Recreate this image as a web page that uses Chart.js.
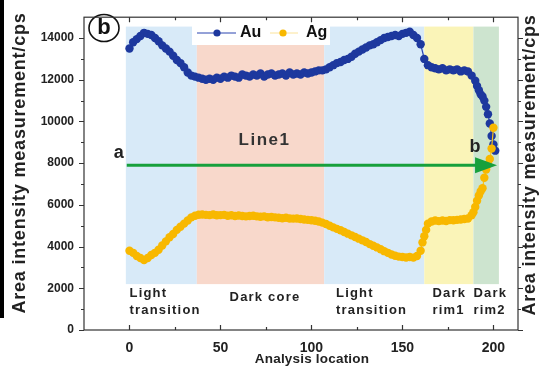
<!DOCTYPE html>
<html><head><meta charset="utf-8">
<script src="https://cdn.jsdelivr.net/npm/chart.js@4/dist/chart.umd.min.js"></script>
<style>html,body{margin:0;padding:0;background:#fff;}canvas{display:block;}</style>
</head><body>
<canvas id="c" width="541" height="370"></canvas>
<script>
// ---- data ----
const auLocation = [0,2,4,6,8,10,12,14,16,18,20,22,24,26,28,30,32,34,36,38,40,42,44,46,48,50,52,54,56,58,60,62,64,66,68,70,72,74,76,78,80,82,84,86,88,90,92,94,96,98,100,102,104,106,108,110,112,114,116,118,120,122,124,126,128,130,132,134,136,138,140,142,144,146,148,150,152,154,156,158,160,162,164,166,168,170,172,174,176,178,180,182,184,186,188,190,191,192,193,194,195,196,197,198,199,200,201];
const auIntensity = [13500,13800,13950,14100,14250,14200,14150,14000,13850,13650,13500,13350,13150,12950,12800,12600,12350,12200,12150,12100,12050,12000,12050,12000,12100,12050,12150,12100,12200,12150,12100,12250,12200,12150,12250,12200,12300,12150,12250,12300,12200,12250,12300,12200,12350,12250,12300,12250,12350,12300,12350,12400,12450,12450,12500,12600,12700,12800,12850,12950,13000,13100,13250,13350,13450,13550,13650,13700,13800,13900,14000,14050,14100,14150,14100,14200,14250,14300,14150,14000,13700,13000,12700,12600,12550,12500,12550,12450,12500,12450,12500,12400,12450,12400,12200,11950,11700,11500,11300,11200,11000,10700,10350,9900,9300,8900,8600];
const agLocation = [0,2,4,6,8,10,12,14,16,18,20,22,24,26,28,30,32,34,36,38,40,42,44,46,48,50,52,54,56,58,60,62,64,66,68,70,72,74,76,78,80,82,84,86,88,90,92,94,96,98,100,102,104,106,108,110,112,114,116,118,120,122,124,126,128,130,132,134,136,138,140,142,144,146,148,150,152,154,156,158,160,161,162,163,164,166,168,170,172,174,176,178,180,182,184,186,188,189,190,191,192,193,194,195,196,197,198,199,200];
const agIntensity = [3800,3700,3550,3450,3350,3450,3600,3700,3850,4050,4250,4450,4600,4800,4950,5100,5250,5400,5480,5530,5540,5520,5510,5540,5500,5510,5520,5480,5500,5470,5490,5470,5450,5470,5480,5450,5430,5450,5410,5420,5400,5380,5360,5380,5350,5340,5350,5320,5300,5280,5260,5240,5200,5150,5080,5000,4920,4850,4780,4700,4620,4540,4460,4380,4300,4220,4120,4040,3960,3870,3780,3700,3620,3560,3520,3500,3480,3500,3470,3550,3800,4200,4500,4800,5100,5200,5250,5220,5250,5230,5270,5260,5280,5300,5320,5350,5500,5650,5900,6200,6450,6650,6800,7300,7700,7950,8200,8700,9700];
const xTickValues = [0,50,100,150,200];
const yTickValues = [0,2000,4000,6000,8000,10000,12000,14000];
const zoneStart = [-2,37,107,162,189];
const zoneEnd = [37,107,162,189,203];
const zoneBounds = [2200,14550];
const zoneLabels = [["Light","transition"],["Dark core"],["Light","transition"],["Dark","rim1"],["Dark","rim2"]];
const zoneLabelAt = [0,55,113.5,166.5,189];
const lineSpan = [-1.5,202];
const lineLevel = [7900];

const F = '"Liberation Sans", Arial, sans-serif';
const zoneColors = ['#d8eaf8','#f8d8cb','#d8eaf8','#faf4b8','#cde4cf'];

function txt(ctx, s, x, y, font, color, align, spacing){
  ctx.font = font; ctx.fillStyle = color; ctx.textAlign = align || 'center';
  ctx.textBaseline = 'middle'; ctx.letterSpacing = spacing || '0px';
  ctx.fillText(s, x, y);
  ctx.letterSpacing = '0px';
}

const decor = {
  id:'decor',
  beforeDraw(chart){
    const ctx = chart.ctx;
    ctx.save();
    ctx.fillStyle = '#000';
    ctx.fillRect(0,0,4,318);
    ctx.restore();
  },
  beforeDatasetsDraw(chart){
    const {ctx, scales:{x,y}} = chart;
    ctx.save();
    const yt = y.getPixelForValue(zoneBounds[1]), yb = y.getPixelForValue(zoneBounds[0]);
    zoneStart.forEach((s,i)=>{
      const x0 = x.getPixelForValue(s), x1 = x.getPixelForValue(zoneEnd[i]);
      ctx.fillStyle = zoneColors[i];
      ctx.fillRect(x0, yt, x1-x0, yb-yt);
    });
    ctx.restore();
  },
  afterDatasetsDraw(chart){
    const {ctx, chartArea:a, scales:{x,y}} = chart;
    ctx.save();
    // arrow Line1
    const ly = y.getPixelForValue(lineLevel[0]);
    const xs = x.getPixelForValue(lineSpan[0]), xe = x.getPixelForValue(lineSpan[1]);
    ctx.strokeStyle = '#17a03c'; ctx.fillStyle = '#17a03c'; ctx.lineWidth = 3.2;
    ctx.beginPath(); ctx.moveTo(xs, ly); ctx.lineTo(xe-18, ly); ctx.stroke();
    ctx.beginPath(); ctx.moveTo(xe, ly); ctx.lineTo(xe-22, ly-8); ctx.lineTo(xe-22, ly+8); ctx.closePath(); ctx.fill();
    txt(ctx, 'a', xs-8, ly-12, 'bold 18px '+F, '#222');
    txt(ctx, 'b', xe-22, ly-18, 'bold 18px '+F, '#222');
    txt(ctx, 'Line1', (x.getPixelForValue(37)+x.getPixelForValue(107))/2+4, ly-25, 'bold 17px '+F, '#333', 'center', '1.5px');

    // zone labels
    zoneLabels.forEach((lines,i)=>{
      const px = x.getPixelForValue(zoneLabelAt[i]);
      if (lines.length === 1) {
        txt(ctx, lines[0], px, a.bottom-33, 'bold 13px '+F, '#222', 'left', '1.2px');
      } else {
        txt(ctx, lines[0], px, a.bottom-37, 'bold 13px '+F, '#222', 'left', '1.2px');
        txt(ctx, lines[1], px, a.bottom-20, 'bold 13px '+F, '#222', 'left', '1.2px');
      }
    });

    // legend
    ctx.fillStyle = '#fff';
    ctx.fillRect(192, 22, 138, 23);
    const ds = chart.data.datasets;
    ctx.strokeStyle = ds[0].borderColor; ctx.lineWidth = 1;
    ctx.beginPath(); ctx.moveTo(197,33); ctx.lineTo(236,33); ctx.stroke();
    ctx.fillStyle = ds[0].pointBackgroundColor;
    ctx.beginPath(); ctx.arc(217,33,3.6,0,Math.PI*2); ctx.fill();
    txt(ctx, ds[0].label, 240, 33, 'bold 16px '+F, '#111', 'left');
    ctx.strokeStyle = '#fbe39a'; ctx.lineWidth = 1;
    ctx.beginPath(); ctx.moveTo(270,33); ctx.lineTo(298,33); ctx.stroke();
    ctx.fillStyle = ds[1].pointBackgroundColor;
    ctx.beginPath(); ctx.arc(283,33,3.6,0,Math.PI*2); ctx.fill();
    txt(ctx, ds[1].label, 306, 33, 'bold 16px '+F, '#111', 'left');

    // circled b
    ctx.strokeStyle = '#111'; ctx.lineWidth = 1.6;
    ctx.beginPath(); ctx.ellipse(104, 28, 15, 13.5, 0, 0, Math.PI*2); ctx.stroke();
    txt(ctx, 'b', 104, 28, 'bold 22px '+F, '#111');

    // frame
    ctx.strokeStyle = '#333'; ctx.lineWidth = 1.2;
    ctx.strokeRect(a.left, a.top, a.right-a.left, a.bottom-a.top);
    ctx.beginPath();
    for (let v = 0; v < 15000; v += 1000) {
      const py = Math.round(y.getPixelForValue(v)) + 0.5;
      const len = v % 2000 === 0 ? 5 : 3;
      ctx.moveTo(a.left-len, py); ctx.lineTo(a.left, py);
      ctx.moveTo(a.right, py); ctx.lineTo(a.right+len, py);
    }
    for (let v = 0; v <= 200; v += 25) {
      const px = Math.round(x.getPixelForValue(v)) + 0.5;
      const len = v % 50 === 0 ? 5 : 3;
      ctx.moveTo(px, a.bottom); ctx.lineTo(px, a.bottom-len);
      ctx.moveTo(px, a.top); ctx.lineTo(px, a.top+len);
    }
    ctx.stroke();

    // axis titles
    const title = 'Area intensity measurement/cps';
    ctx.save(); ctx.translate(20, 163); ctx.rotate(-Math.PI/2);
    txt(ctx, title, 0, 0, 'bold 18px '+F, '#222', 'center', '0.8px');
    ctx.restore();
    ctx.save(); ctx.translate(530, 165); ctx.rotate(-Math.PI/2);
    txt(ctx, title, 0, 0, 'bold 18px '+F, '#222', 'center', '0.8px');
    ctx.restore();
    txt(ctx, 'Analysis location', 312, 359, 'bold 13.5px '+F, '#222', 'center', '0.2px');
    ctx.restore();
  }
};

new Chart(document.getElementById('c'), {
  type: 'line',
  data: {
    datasets: [
      { label:'Au', data: auLocation.map((v,i)=>({x:v, y:auIntensity[i]})),
        borderColor:'#2a44b0', borderWidth:1.2, pointRadius:4.2, pointHoverRadius:4.2,
        pointBackgroundColor:'#1d389e', pointBorderWidth:0, tension:0, order:1 },
      { label:'Ag', data: agLocation.map((v,i)=>({x:v, y:agIntensity[i]})),
        borderColor:'#f9c21c', borderWidth:1.2, pointRadius:4.2, pointHoverRadius:4.2,
        pointBackgroundColor:'#f8b800', pointBorderWidth:0, tension:0, order:0 }
    ]
  },
  options: {
    responsive:false, animation:false, events:[],
    layout:{ padding:{ top:8, right:23, left:0, bottom:0 } },
    plugins:{ legend:{display:false}, tooltip:{enabled:false} },
    scales:{
      x:{ type:'linear', min:-25, max:213.5,
          grid:{display:false, drawTicks:false, tickLength:0}, border:{display:false},
          ticks:{ font:{family:F, size:14, weight:'bold'}, color:'#222', padding:10,
                  callback: v => String(v) },
          afterBuildTicks: s => { s.ticks = xTickValues.map(v=>({value:v})); },
          afterFit: s => { s.height = 40; } },
      y:{ min:0, max:15000,
          grid:{display:false, drawTicks:false, tickLength:0}, border:{display:false},
          ticks:{ font:{family:F, size:12, weight:'bold'}, color:'#222', padding:10,
                  callback: v => String(v) },
          afterBuildTicks: s => { s.ticks = yTickValues.map(v=>({value:v})); },
          afterFit: s => { s.width = 84; } }
    }
  },
  plugins:[decor]
});
</script>
</body></html>
